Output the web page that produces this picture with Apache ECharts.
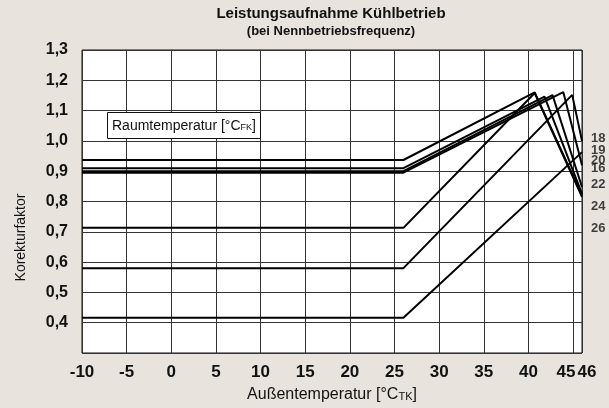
<!DOCTYPE html>
<html><head><meta charset="utf-8">
<script src="https://cdn.jsdelivr.net/npm/echarts@6/dist/echarts.min.js"></script>
<style>html,body{margin:0;padding:0;background:#e9e3de}#c{width:609px;height:408px}</style>
</head><body><div id="c"></div>
<script>
// ---- data ----
const seriesNames = ['26', '24', '22', '20', '16', '18', '19'];
const s26 = [[-10, 0.937], [26, 0.937], [40.7, 1.160], [46, 0.820]];
const s24 = [[-10, 0.910], [26, 0.910], [41.8, 1.146], [46, 0.825]];
const s22 = [[-10, 0.900], [26, 0.900], [42.7, 1.151], [46, 0.848]];
const s20 = [[-10, 0.895], [26, 0.895], [43.9, 1.161], [46, 0.920]];
const s16 = [[-10, 0.713], [26, 0.713], [40.7, 1.158], [46, 0.815]];
const s18 = [[-10, 0.580], [26, 0.580], [44.9, 1.152], [46, 1.000]];
const s19 = [[-10, 0.416], [26, 0.416], [46, 0.963]];
const seriesData = [s26, s24, s22, s20, s16, s18, s19];
const yTicks = [0.4, 0.5, 0.6, 0.7, 0.8, 0.9, 1.0, 1.1, 1.2, 1.3];
const xTicks = [-10, -5, 0, 5, 10, 15, 20, 25, 30, 35, 40, 45, 46];
// order of the series labels listed down the right edge
const labelOrder = ['18', '19', '20', '16', '22', '24', '26'];

// ---- style ----
const FONT = '"Liberation Sans Narrow", "Liberation Sans", Arial, sans-serif';
const labelAnchorY = [1.008, 0.969, 0.936, 0.910, 0.858, 0.784, 0.712]; // vertical anchor (axis units) of the right-edge labels

const chart = echarts.init(document.getElementById('c'), null, { renderer: 'canvas' });
chart.setOption({
  animation: false,
  backgroundColor: '#e9e3de',
  title: [
    {
      text: 'Leistungsaufnahme Kühlbetrieb',
      subtext: '(bei Nennbetriebsfrequenz)',
      left: 331, top: 6, textAlign: 'center', itemGap: 4, padding: 0,
      textStyle: { fontFamily: FONT, fontSize: 15, fontWeight: 'bold', color: '#111' },
      subtextStyle: { fontFamily: FONT, fontSize: 13, fontWeight: 'bold', color: '#111' }
    },
    {
      text: '{a|Raumtemperatur [°C}{s|FK}{a|]}',
      left: 107, top: 112,
      padding: [7, 5, 6, 5],
      backgroundColor: '#fff', borderColor: '#111', borderWidth: 1,
      textStyle: {
        fontWeight: 'normal',
        rich: {
          a: { fontFamily: FONT, fontSize: 14, fontWeight: 'normal', color: '#111' },
          s: { fontFamily: FONT, fontSize: 9, fontWeight: 'normal', color: '#111', padding: [4, 0, 0, 0] }
        }
      }
    }
  ],
  grid: { left: 82, right: 27, top: 50, bottom: 50, show: true, backgroundColor: '#fff', borderColor: '#111', borderWidth: 1 },
  xAxis: {
    type: 'value', min: -10, max: 46, interval: 5,
    name: '{a|Außentemperatur [°C}{s|TK}{a|]}', nameLocation: 'middle', nameGap: 34,
    nameTextStyle: { rich: {
      a: { fontFamily: FONT, fontSize: 16, color: '#111' },
      s: { fontFamily: FONT, fontSize: 11, color: '#111', padding: [4, 0, 0, 0] }
    } },
    axisLine: { show: false }, axisTick: { show: false },
    splitLine: { show: true, lineStyle: { color: '#333', width: 1 } },
    axisLabel: {
      margin: 11, fontFamily: FONT, fontSize: 17, fontWeight: 'bold', color: '#111',
      showMinLabel: true, showMaxLabel: true,
      formatter: v => {
        if (xTicks.indexOf(v) < 0) return '';
        if (v === 45) return '{l|45}';
        if (v === 46) return '{r|46}';
        return String(v);
      },
      rich: {
        l: { fontFamily: FONT, fontSize: 17, fontWeight: 'bold', color: '#111', padding: [0, 14, 0, 0] },
        r: { fontFamily: FONT, fontSize: 17, fontWeight: 'bold', color: '#111', padding: [0, 0, 0, 10] }
      }
    }
  },
  yAxis: {
    type: 'value', min: 0.3, max: 1.3, interval: 0.1,
    name: 'Korekturfaktor', nameLocation: 'middle', nameGap: 54,
    nameTextStyle: { fontFamily: FONT, fontSize: 14, color: '#111', padding: [0, 72, 0, 0] },
    axisLine: { show: false }, axisTick: { show: false },
    splitLine: { show: true, lineStyle: { color: '#333', width: 1 } },
    axisLabel: {
      margin: 14, fontFamily: FONT, fontSize: 16, fontWeight: 'bold', color: '#111',
      showMinLabel: false, padding: [4, 0, 0, 0],
      formatter: v => {
        const r = Math.round(v * 10) / 10;
        return yTicks.some(t => Math.abs(t - r) < 1e-6) ? r.toFixed(1).replace('.', ',') : '';
      }
    }
  },
  series: seriesNames.map((n, i) => ({
    name: n, type: 'line', data: seriesData[i], symbol: 'none', clip: false,
    lineStyle: { color: '#000', width: 2 }
  })).concat([{
    name: 'labels', type: 'scatter', symbolSize: 0, silent: true,
    data: labelOrder.map((n, i) => ({ value: [46, labelAnchorY[i]], name: n })),
    label: { show: true, position: 'right', distance: 9, formatter: '{b}', fontFamily: FONT, fontSize: 13, fontWeight: 'bold', color: '#111' }
  }])
});
</script></body></html>
